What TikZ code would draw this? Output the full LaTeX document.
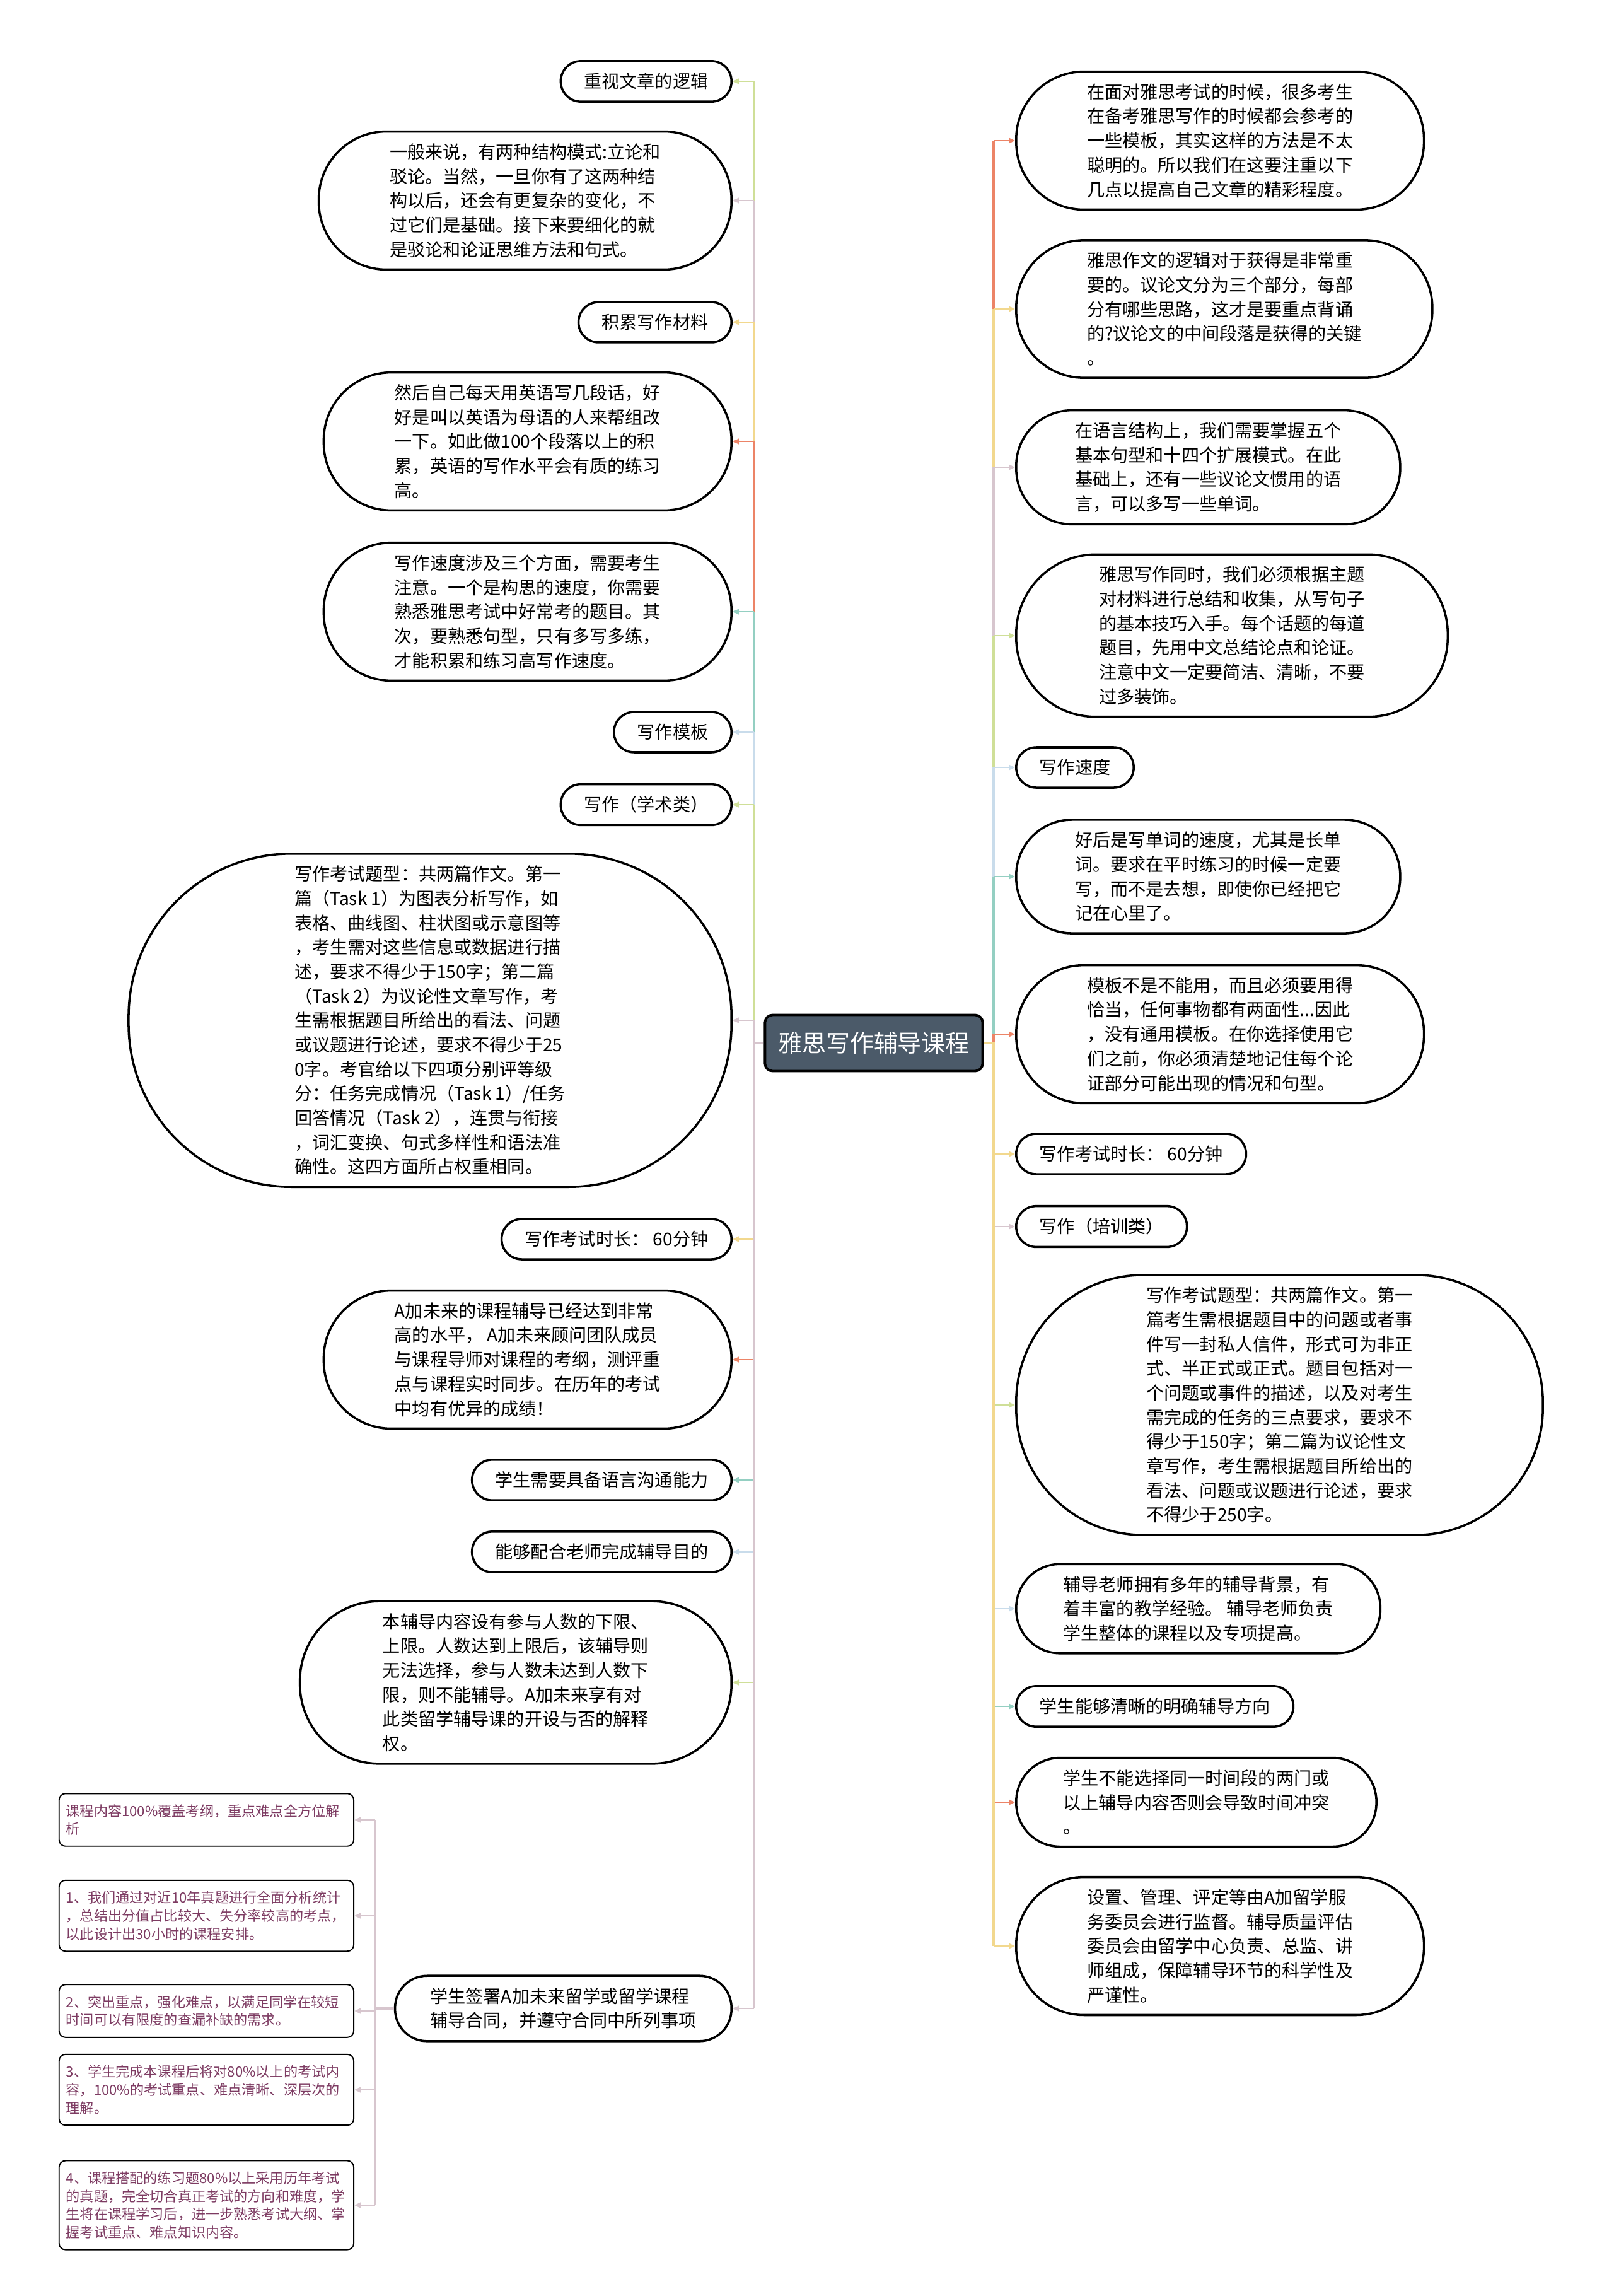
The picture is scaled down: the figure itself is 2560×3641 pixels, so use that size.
\documentclass[tikz,border=0pt]{standalone}
\usepackage{fontspec}
\setmainfont{Noto Sans CJK SC}
\usetikzlibrary{arrows.meta}
\definecolor{rootfill}{HTML}{4B5A69}
\definecolor{notetext}{HTML}{7D3B62}
\definecolor{cGreen}{HTML}{CFDF98}
\definecolor{cMauve}{HTML}{D7C6CE}
\definecolor{cYellow}{HTML}{F2D88E}
\definecolor{cRed}{HTML}{EC8467}
\definecolor{cTeal}{HTML}{94CFC2}
\definecolor{cBlue}{HTML}{C9DCEB}

\begin{document}
\begin{tikzpicture}[x=0.01cm, y=-0.01cm, >=Triangle]
    % #1 = number of text lines, gives the half-round ends
    \tikzset{topic/.style={draw, line width=1pt, fill=white, align=left, inner ysep=0.19cm, rounded corners={0.1885cm*#1+0.131cm}, inner xsep={0.1885cm*#1+0.181cm}, font=\fontsize{8}{11}\selectfont},
        topic/.default=1,
        root/.style={draw, line width=1.1pt, fill=rootfill, rounded corners=0.12cm, minimum width=3.45cm, minimum height=0.89cm, text=white, font=\fontsize{10.8}{13}\selectfont},
        note/.style={draw, line width=0.55pt, fill=white, rounded corners=0.1cm, text width=4.45cm, inner xsep=0.11cm, inner ysep=0.17cm, align=left, text=notetext, font=\fontsize{6.3}{8.2}\selectfont},
        trunk/.style={line width=1pt},
        twig/.style={line width=0.7pt, -{Triangle[length=2.8pt, width=2.4pt]}}
    }
    \useasboundingbox (0,0) rectangle (2560,3641);

    \node (root) [root] at (1386,1654) {雅思写作辅导课程};
    \coordinate (lt) at (1196,1654);
    \coordinate (rt) at (1576,1654);

    % left side
    \node (L1) [topic, anchor=east] at (1162,129) {重视文章的逻辑};
    \node (L2) [topic=5, anchor=east] at (1162,318) {一般来说，有两种结构模式:立论和\\驳论。当然，一旦你有了这两种结\\构以后，还会有更复杂的变化，不\\过它们是基础。接下来要细化的就\\是驳论和论证思维方法和句式。};
    \node (L3) [topic, anchor=east] at (1162,511) {积累写作材料};
    \node (L4) [topic=5, anchor=east] at (1162,700) {然后自己每天用英语写几段话，好\\好是叫以英语为母语的人来帮组改\\一下。如此做100个段落以上的积\\累，英语的写作水平会有质的练习\\高。};
    \node (L5) [topic=5, anchor=east] at (1162,970) {写作速度涉及三个方面，需要考生\\注意。一个是构思的速度，你需要\\熟悉雅思考试中好常考的题目。其\\次，要熟悉句型，只有多写多练，\\才能积累和练习高写作速度。};
    \node (L6) [topic, anchor=east] at (1162,1161) {写作模板};
    \node (L7) [topic, anchor=east] at (1162,1276) {写作（学术类）};
    \node (L8) [topic=13, anchor=east] at (1162,1618) {写作考试题型：共两篇作文。第一\\篇（Task 1）为图表分析写作，如\\表格、曲线图、柱状图或示意图等\\，考生需对这些信息或数据进行描\\述，要求不得少于150字；第二篇\\（Task 2）为议论性文章写作，考\\生需根据题目所给出的看法、问题\\或议题进行论述，要求不得少于25\\0字。考官给以下四项分别评等级\\分：任务完成情况（Task 1）/任务\\回答情况（Task 2），连贯与衔接\\，词汇变换、句式多样性和语法准\\确性。这四方面所占权重相同。};
    \node (L9) [topic, anchor=east] at (1162,1965) {写作考试时长： 60分钟};
    \node (L10) [topic=5, anchor=east] at (1162,2156) {A加未来的课程辅导已经达到非常\\高的水平， A加未来顾问团队成员\\与课程导师对课程的考纲，测评重\\点与课程实时同步。在历年的考试\\中均有优异的成绩！};
    \node (L11) [topic, anchor=east] at (1162,2347) {学生需要具备语言沟通能力};
    \node (L12) [topic, anchor=east] at (1162,2461) {能够配合老师完成辅导目的};
    \node (L13) [topic=6, anchor=east] at (1162,2668) {本辅导内容设有参与人数的下限、\\上限。人数达到上限后，该辅导则\\无法选择，参与人数未达到人数下\\限，则不能辅导。A加未来享有对\\此类留学辅导课的开设与否的解释\\权。};
    \node (L14) [topic=2, anchor=east] at (1162,3185) {学生签署A加未来留学或留学课程\\辅导合同，并遵守合同中所列事项};

    % notes under L14
    \node (S1) [note, anchor=east] at (562,2886) {课程内容100\%覆盖考纲，重点难点全方位解\\析};
    \node (S2) [note, anchor=east] at (562,3038) {1、我们通过对近10年真题进行全面分析统计\\，总结出分值占比较大、失分率较高的考点，\\以此设计出30小时的课程安排。};
    \node (S3) [note, anchor=east] at (562,3189) {2、突出重点，强化难点，以满足同学在较短\\时间可以有限度的查漏补缺的需求。};
    \node (S4) [note, anchor=east] at (562,3314) {3、学生完成本课程后将对80\%以上的考试内\\容，100\%的考试重点、难点清晰、深层次的\\理解。};
    \node (S5) [note, anchor=east] at (562,3497) {4、课程搭配的练习题80\%以上采用历年考试\\的真题，完全切合真正考试的方向和难度，学\\生将在课程学习后，进一步熟悉考试大纲、掌\\握考试重点、难点知识内容。};

    % right side
    \node (R1) [topic=5, anchor=west] at (1610,223) {在面对雅思考试的时候，很多考生\\在备考雅思写作的时候都会参考的\\一些模板，其实这样的方法是不太\\聪明的。所以我们在这要注重以下\\几点以提高自己文章的精彩程度。};
    \node (R2) [topic=5, anchor=west] at (1610,490) {雅思作文的逻辑对于获得是非常重\\要的。议论文分为三个部分，每部\\分有哪些思路，这才是要重点背诵\\的?议论文的中间段落是获得的关键\\。};
    \node (R3) [topic=4, anchor=west] at (1610,741) {在语言结构上，我们需要掌握五个\\基本句型和十四个扩展模式。在此\\基础上，还有一些议论文惯用的语\\言，可以多写一些单词。};
    \node (R4) [topic=6, anchor=west] at (1610,1008) {雅思写作同时，我们必须根据主题\\对材料进行总结和收集，从写句子\\的基本技巧入手。每个话题的每道\\题目，先用中文总结论点和论证。\\注意中文一定要简洁、清晰，不要\\过多装饰。};
    \node (R5) [topic, anchor=west] at (1610,1217) {写作速度};
    \node (R6) [topic=4, anchor=west] at (1610,1390) {好后是写单词的速度，尤其是长单\\词。要求在平时练习的时候一定要\\写，而不是去想，即使你已经把它\\记在心里了。};
    \node (R7) [topic=5, anchor=west] at (1610,1640) {模板不是不能用，而且必须要用得\\恰当，任何事物都有两面性...因此\\，没有通用模板。在你选择使用它\\们之前，你必须清楚地记住每个论\\证部分可能出现的情况和句型。};
    \node (R8) [topic, anchor=west] at (1610,1830) {写作考试时长： 60分钟};
    \node (R9) [topic, anchor=west] at (1610,1945) {写作（培训类）};
    \node (R10) [topic=10, anchor=west] at (1610,2228) {写作考试题型：共两篇作文。第一\\篇考生需根据题目中的问题或者事\\件写一封私人信件，形式可为非正\\式、半正式或正式。题目包括对一\\个问题或事件的描述，以及对考生\\需完成的任务的三点要求，要求不\\得少于150字；第二篇为议论性文\\章写作，考生需根据题目所给出的\\看法、问题或议题进行论述，要求\\不得少于250字。};
    \node (R11) [topic=3, anchor=west] at (1610,2551) {辅导老师拥有多年的辅导背景，有\\着丰富的教学经验。 辅导老师负责\\学生整体的课程以及专项提高。};
    \node (R12) [topic, anchor=west] at (1610,2706) {学生能够清晰的明确辅导方向};
    \node (R13) [topic=3, anchor=west] at (1610,2858) {学生不能选择同一时间段的两门或\\以上辅导内容否则会导致时间冲突\\。};
    \node (R14) [topic=5, anchor=west] at (1610,3086) {设置、管理、评定等由A加留学服\\务委员会进行监督。辅导质量评估\\委员会由留学中心负责、总监、讲\\师组成，保障辅导环节的科学性及\\严谨性。};

    % connectors, top to bottom so the lower ones lie on top
    \foreach \n/\c in {L1/cGreen, L2/cMauve, L3/cYellow, L4/cRed, L5/cTeal, L6/cBlue, L7/cGreen, L8/cMauve, L9/cYellow, L10/cRed, L11/cTeal, L12/cBlue, L13/cGreen, L14/cMauve} {
        \draw [trunk, draw=\c] (root.west) -- (lt) -- (lt |- \n.east);
        \draw [twig, draw=\c] (lt |- \n.east) -- (\n.east);
    }
    \foreach \n/\c in {R1/cRed, R2/cYellow, R3/cMauve, R4/cGreen, R5/cBlue, R6/cTeal, R7/cRed, R8/cYellow, R9/cMauve, R10/cGreen, R11/cBlue, R12/cTeal, R13/cRed, R14/cYellow} {
        \draw [trunk, draw=\c] (root.east) -- (rt) -- (rt |- \n.west);
        \draw [twig, draw=\c] (rt |- \n.west) -- (\n.west);
    }
    \coordinate (st) at (595,3188);
    \foreach \n in {S1, S2, S3, S4, S5} {
        \draw [trunk, draw=cMauve] (L14.west) -- (st |- L14.west) -- (st |- \n.east);
        \draw [twig, draw=cMauve] (st |- \n.east) -- (\n.east);
    }
\end{tikzpicture}
\end{document}
